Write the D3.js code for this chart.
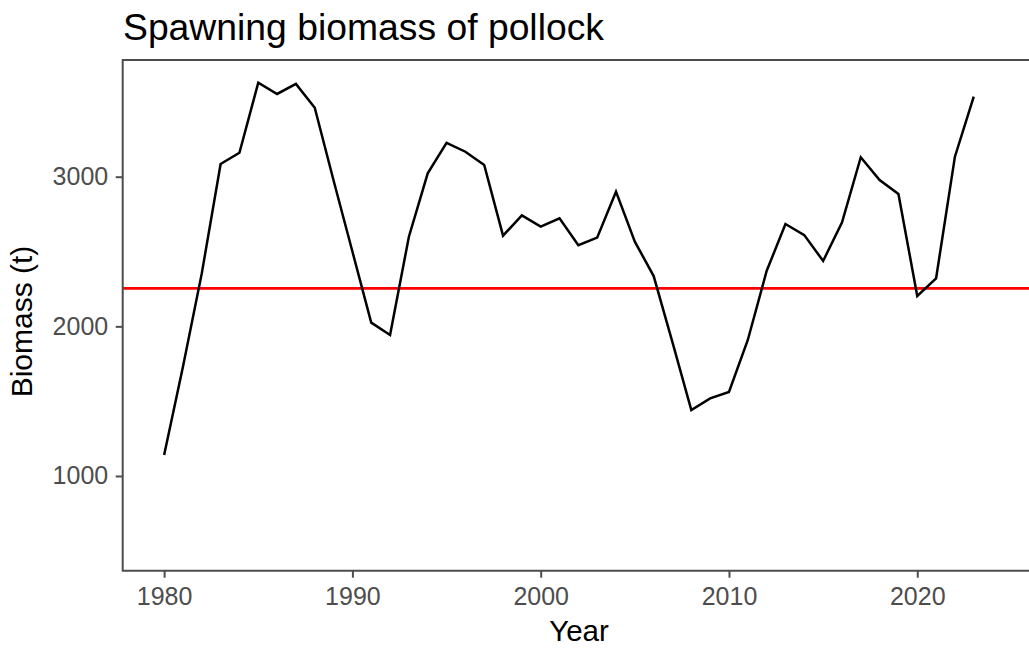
<!DOCTYPE html>
<html>
<head>
<meta charset="utf-8">
<script src="https://cdn.jsdelivr.net/npm/d3@7"></script>
<style>
  html, body { margin: 0; padding: 0; background: #fff; }
  svg { display: block; font-family: "Liberation Sans", Arial, sans-serif; }
</style>
</head>
<body>
<svg id="chart" width="1029" height="648"></svg>
<script>
const years = [1980,1981,1982,1983,1984,1985,1986,1987,1988,1989,
               1990,1991,1992,1993,1994,1995,1996,1997,1998,1999,
               2000,2001,2002,2003,2004,2005,2006,2007,2008,2009,
               2010,2011,2012,2013,2014,2015,2016,2017,2018,2019,
               2020,2021,2022,2023];
const biomass = [1140,1730,2354,3085,3160,3628,3553,3620,3461,2975,
                 2500,2025,1942,2599,3023,3227,3167,3078,2606,2742,
                 2666,2722,2542,2593,2900,2566,2336,1893,1441,1519,
                 1561,1909,2370,2684,2610,2437,2693,3130,2978,2884,
                 2203,2321,3134,3535];
const referenceLevel = [2254];
const xTicks = [1980, 1990, 2000, 2010, 2020];
const yTicks = [1000, 2000, 3000];
const titleText = "Spawning biomass of pollock";
const xLabel = "Year";
const yLabel = "Biomass (t)";

(function () {
const svg = d3.select("#chart");
const pLeft = 122.7, pRight = 1034, pTop = 60, pBottom = 570.7;
const axisColor = "#4d4d4d";

const x = d3.scaleLinear().domain([1977.8, 2026.2]).range([pLeft, pRight]);
const y = d3.scaleLinear().domain([367, 3780]).range([pBottom, pTop]);

const data = years.map((yr, i) => ({ year: yr, value: biomass[i] }));

// reference line
svg.selectAll("line.ref").data(referenceLevel).enter().append("line")
  .attr("class", "ref")
  .attr("x1", pLeft).attr("x2", pRight)
  .attr("y1", d => y(d)).attr("y2", d => y(d))
  .attr("stroke", "#ff0000").attr("stroke-width", 2.6);

// biomass line
const line = d3.line().x(d => x(d.year)).y(d => y(d.value));
svg.append("path").datum(data)
  .attr("d", line)
  .attr("fill", "none")
  .attr("stroke", "#000")
  .attr("stroke-width", 2.5)
  .attr("stroke-linejoin", "miter");

// panel border (top, left, bottom; right is off-canvas)
svg.append("path")
  .attr("d", `M${pRight},${pTop}H${pLeft}V${pBottom}H${pRight}`)
  .attr("fill", "none")
  .attr("stroke", axisColor)
  .attr("stroke-width", 2);

// x axis
const gx = svg.append("g").attr("transform", `translate(0,${pBottom})`)
  .call(d3.axisBottom(x).tickValues(xTicks).tickFormat(d3.format("d")).tickSize(7).tickPadding(10));
gx.select(".domain").remove();
gx.selectAll(".tick line").attr("stroke", axisColor).attr("stroke-width", 2);
gx.selectAll(".tick text").attr("fill", axisColor)
  .attr("font-size", 25).attr("font-family", "Liberation Sans, Arial, sans-serif");

// y axis
const gy = svg.append("g").attr("transform", `translate(${pLeft},0)`)
  .call(d3.axisLeft(y).tickValues(yTicks).tickFormat(d3.format("d")).tickSize(7).tickPadding(7.5));
gy.select(".domain").remove();
gy.selectAll(".tick line").attr("stroke", axisColor).attr("stroke-width", 2);
gy.selectAll(".tick text").attr("fill", axisColor)
  .attr("font-size", 25).attr("font-family", "Liberation Sans, Arial, sans-serif");

// title
svg.append("text").attr("x", 123).attr("y", 40)
  .attr("font-size", 37.3).attr("fill", "#000").text(titleText);

// axis titles
svg.append("text").attr("x", 579).attr("y", 641)
  .attr("text-anchor", "middle").attr("font-size", 29.5).attr("fill", "#000").text(xLabel);
svg.append("text")
  .attr("transform", `translate(32,321.5) rotate(-90)`)
  .attr("text-anchor", "middle").attr("font-size", 30).attr("fill", "#000").text(yLabel);
})();
</script>
</body>
</html>
